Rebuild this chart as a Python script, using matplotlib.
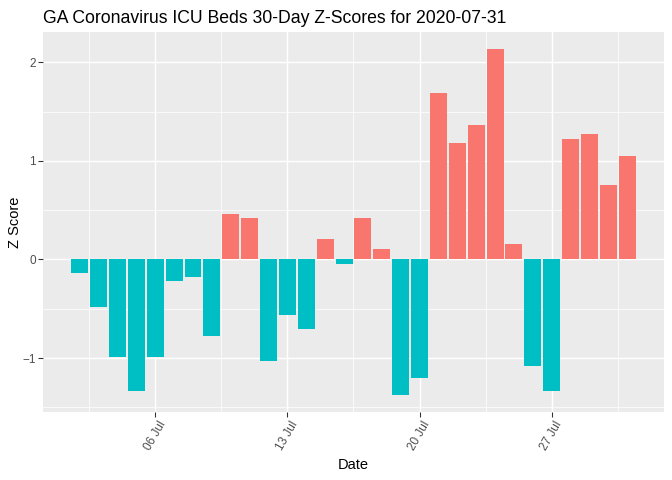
import numpy as np
import pandas as pd
import matplotlib
matplotlib.use("Agg")
import matplotlib.pyplot as plt
import matplotlib.dates as mdates

plt.rcParams['font.family'] = ['Liberation Sans', 'DejaVu Sans']

dates = pd.date_range("2020-07-02", "2020-07-31", freq="D")
z_scores = [-0.14, -0.48, -0.99, -1.33, -0.99, -0.22, -0.18, -0.78, 0.46, 0.42,
            -1.03, -0.56, -0.70, 0.21, -0.05, 0.42, 0.11, -1.37, -1.20, 1.69,
            1.18, 1.36, 2.13, 0.16, -1.08, -1.33, 1.22, 1.27, 0.76, 1.05]

z = np.array(z_scores)
colors = np.where(z > 0, "#F8766D", "#00BFC4")

fig = plt.figure(figsize=(7, 5), dpi=96)
ax = fig.add_axes([0.064, 0.142, 0.924, 0.791])
ax.set_facecolor("#EBEBEB")

ax.bar(dates, z, width=0.9, color=colors, zorder=3)

# limits with ggplot-style 5% expansion
x0 = mdates.date2num(dates[0]) - 0.45
x1 = mdates.date2num(dates[-1]) + 0.45
dx = (x1 - x0) * 0.05
ax.set_xlim(x0 - dx, x1 + dx)
ymin, ymax = min(z.min(), 0), max(z.max(), 0)
dy = (ymax - ymin) * 0.05
ax.set_ylim(ymin - dy, ymax + dy)

major = pd.to_datetime(["2020-07-06", "2020-07-13", "2020-07-20", "2020-07-27"])
ax.set_xticks(mdates.date2num(major))
ax.xaxis.set_minor_locator(matplotlib.ticker.FixedLocator(
    list(mdates.date2num(major) - 3.5) + [mdates.date2num(major[-1]) + 3.5]))
ax.set_xticklabels([d.strftime("%d %b") for d in major], rotation=60,
                   ha="center", va="top")
ax.set_yticks([-1, 0, 1, 2])
ax.set_yticks([-1.5, -0.5, 0.5, 1.5], minor=True)

ax.grid(which="major", color="white", linewidth=1.1, zorder=0)
ax.grid(which="minor", color="white", linewidth=0.55, zorder=0)
ax.set_axisbelow(True)
for s in ax.spines.values():
    s.set_visible(False)

ax.tick_params(which="major", length=3.5, width=0.8, color="#333333",
               labelsize=8.8, labelcolor="#4D4D4D", pad=2)
ax.tick_params(which="minor", length=0)

ax.set_xlabel("Date", fontsize=11, labelpad=4)
ax.set_ylabel("Z Score", fontsize=11, labelpad=0.5)
ax.set_title("GA Coronavirus ICU Beds 30-Day Z-Scores for 2020-07-31",
             fontsize=13.2, loc="left", pad=7)

fig.savefig("out.png", dpi=96)
